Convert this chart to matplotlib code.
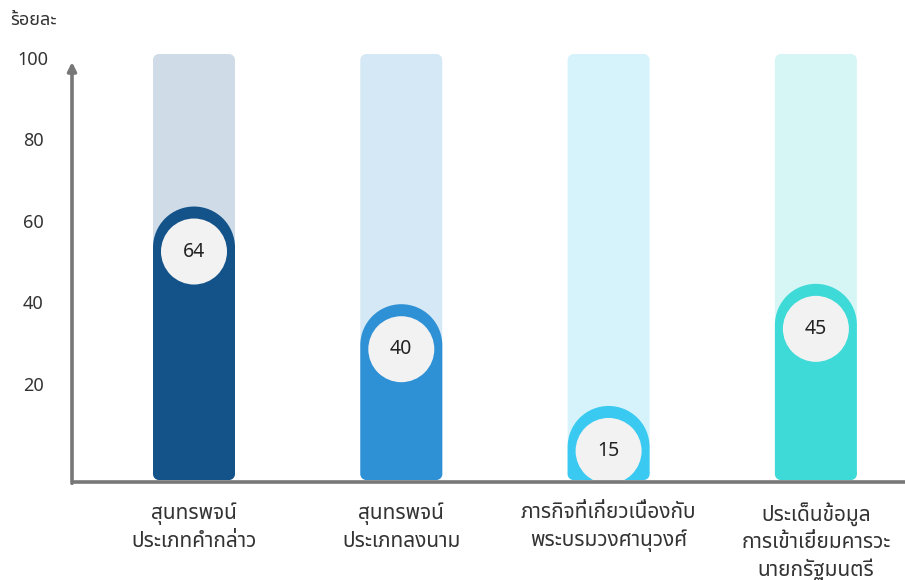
import matplotlib
matplotlib.use("Agg")
import matplotlib.pyplot as plt
from matplotlib import font_manager
from matplotlib.path import Path
from matplotlib.patches import PathPatch, Ellipse
import numpy as np

categories = [
    "สุนทรพจน์\nประเภทคำกล่าว",
    "สุนทรพจน์\nประเภทลงนาม",
    "ภารกิจที่เกี่ยวเนื่องกับ\nพระบรมวงศานุวงศ์",
    "ประเด็นข้อมูล\nการเข้าเยี่ยมคารวะ\nนายกรัฐมนตรี",
]
values = [64, 40, 15, 45]
y_ticks = [20, 40, 60, 80, 100]
y_label = "ร้อยละ"

bar_colors = ["#14538A", "#2E91D6", "#3AC9F0", "#3EDAD7"]
track_colors = ["#CFDCE7", "#D5E8F5", "#D6F3FB", "#D6F6F5"]

# pick a loopless Thai face if one is installed
installed = {f.name for f in font_manager.fontManager.ttflist}
wanted = ["Noto Sans Thai", "Noto Sans Thai UI", "IBM Plex Sans Thai",
          "Anuphan"]
thai = [f for f in wanted if f in installed][:1]
plt.rcParams["font.family"] = thai + ["DejaVu Sans"]

W, H = 905, 580
fig = plt.figure(figsize=(W / 100, H / 100), dpi=100)

# layout in pixels from the top-left corner
left_px, right_px, top_px, base_px = 72, 905, 40, 482
zero_px, px_per_unit = 467, 4.07
x0_px, x_step_px = 194, 207.3

ax = fig.add_axes([left_px / W, (H - base_px) / H,
                   (right_px - left_px) / W, (base_px - top_px) / H])
ymin = -(base_px - zero_px) / px_per_unit
ymax = (zero_px - top_px) / px_per_unit
xmin = (left_px - x0_px) / x_step_px
xmax = (right_px - x0_px) / x_step_px
ax.set_xlim(xmin, xmax)
ax.set_ylim(ymin, ymax)
ax.axis("off")

sx = (right_px - left_px) / (xmax - xmin)   # px per x unit
sy = (base_px - top_px) / (ymax - ymin)     # px per y unit


def rounded_bar(xc, half_px, y0, y1, rb_px, rt_px):
    hw = half_px / sx
    verts, codes = [], []

    def arc(cx, cy, r_px, t1, t2, first=False):
        a = Path.arc(t1, t2)
        v = a.vertices * [r_px / sx, r_px / sy] + [cx, cy]
        c = list(a.codes)
        c[0] = Path.MOVETO if first else Path.LINETO
        verts.extend(v.tolist())
        codes.extend(c)

    rbx, rby = rb_px / sx, rb_px / sy
    rtx, rty = rt_px / sx, rt_px / sy
    arc(xc - hw + rbx, y0 + rby, rb_px, 180, 270, first=True)
    arc(xc + hw - rbx, y0 + rby, rb_px, 270, 360)
    arc(xc + hw - rtx, y1 - rty, rt_px, 0, 90)
    arc(xc - hw + rtx, y1 - rty, rt_px, 90, 180)
    verts.append(verts[0])
    codes.append(Path.CLOSEPOLY)
    return Path(verts, codes)


x = np.arange(len(values))
bar_bottom = ymin + 2 / sy
track_top = (zero_px - 54) / px_per_unit
for i, v in enumerate(values):
    track = rounded_bar(x[i], 41, bar_bottom, track_top, 6, 6)
    ax.add_patch(PathPatch(track, facecolor=track_colors[i], edgecolor="none"))
    bar = rounded_bar(x[i], 41, bar_bottom, v, 6, 41)
    ax.add_patch(PathPatch(bar, facecolor=bar_colors[i], edgecolor="none"))
    cy = v - 45 / sy
    ax.add_patch(Ellipse((x[i], cy), 66 / sx, 66 / sy, facecolor="#F2F2F2",
                         edgecolor="none"))
    ax.text(x[i], cy, str(v), ha="center", va="center", fontsize=14,
            color="#222222")
    ax.text(x[i], ymin - 20 / sy, categories[i], ha="center", va="top",
            fontsize=15, color="#333333", linespacing=1.4, clip_on=False)

# axis lines
ax.plot([xmin, xmax], [ymin, ymin], color="#777777", lw=2.6,
        solid_capstyle="butt", clip_on=False)
ax.annotate("", xy=(xmin, (zero_px - 62) / px_per_unit),
            xytext=(xmin, ymin - 1.3 / sy),
            arrowprops=dict(arrowstyle="-|>,head_length=0.5,head_width=0.25",
                            color="#777777", lw=2.6, shrinkA=0, shrinkB=0),
            annotation_clip=False)

for t in y_ticks:
    fig.text(33 / W, 1 - (zero_px - t * px_per_unit) / H, str(t),
             ha="center", va="center", fontsize=13, color="#333333")

fig.text(10 / W, 1 - 20 / H, y_label, ha="left", va="center", fontsize=13,
         color="#333333")

fig.savefig("out.png", dpi=100)
